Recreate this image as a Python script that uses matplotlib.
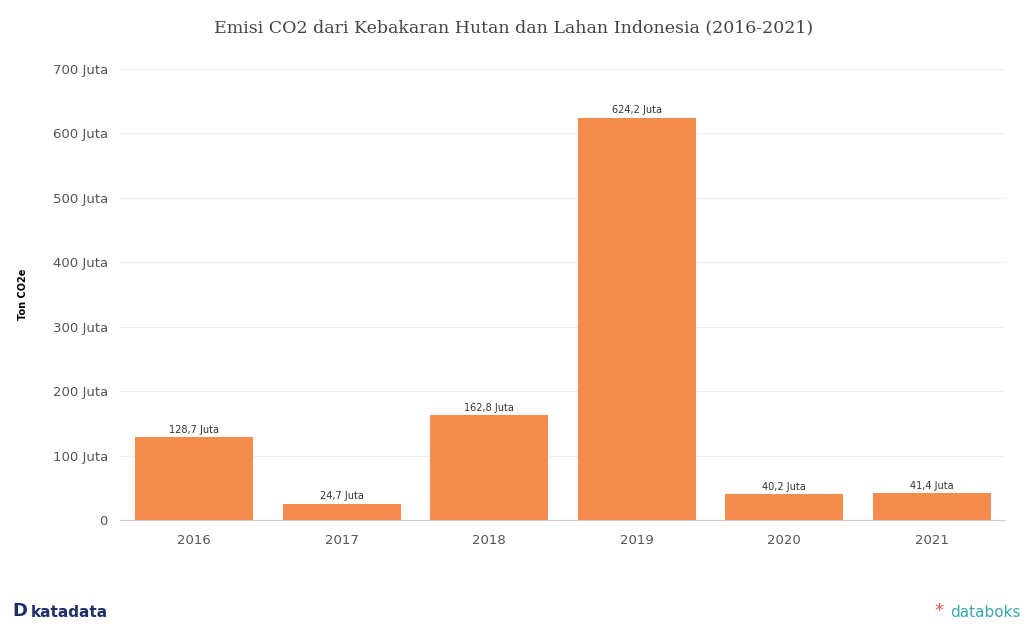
import matplotlib.pyplot as plt
from matplotlib.ticker import FuncFormatter

years = ["2016", "2017", "2018", "2019", "2020", "2021"]
emisi = [128.7, 24.7, 162.8, 624.2, 40.2, 41.4]  # juta ton CO2e
yticks = [0, 100, 200, 300, 400, 500, 600, 700]

bar_color = "#F58B4C"

fig = plt.figure(figsize=(10.28, 6.28), dpi=100)
ax = fig.add_axes([0.117, 0.172, 0.861, 0.718])

x = range(len(years))
bars = ax.bar(x, emisi, width=0.8, color=bar_color, zorder=2)

for rect, v in zip(bars, emisi):
    label = f"{v:.1f}".replace(".", ",") + " Juta"
    ax.text(rect.get_x() + rect.get_width() / 2, v + 4, label,
            ha="center", va="bottom", fontsize=7, color="#333333")

ax.set_xlim(-0.5, 5.5)
ax.set_ylim(0, 700)
ax.set_xticks(list(x))
ax.set_xticklabels(years)
ax.set_yticks(yticks)
ax.yaxis.set_major_formatter(FuncFormatter(lambda v, p: "0" if v == 0 else f"{int(v)} Juta"))
ax.tick_params(axis="both", length=0, labelsize=9.5, colors="#555555")
ax.tick_params(axis="x", pad=10)
ax.tick_params(axis="y", pad=9)

ax.grid(axis="y", color="#eeeeee", linewidth=0.8, zorder=0)
for side in ["top", "right", "left"]:
    ax.spines[side].set_visible(False)
ax.spines["bottom"].set_color("#cccccc")

ax.set_ylabel("Ton CO2e", fontsize=7, fontweight="bold", labelpad=18)

fig.text(0.5, 0.955, "Emisi CO2 dari Kebakaran Hutan dan Lahan Indonesia (2016-2021)",
         ha="center", va="center", fontsize=12.5, family="DejaVu Serif", color="#444444")

fig.text(0.012, 0.012, "D", fontsize=13, fontweight="bold", color="#1f2f6b", va="bottom")
fig.text(0.03, 0.012, "katadata", fontsize=11, fontweight="bold", color="#1f2f6b", va="bottom")
fig.text(0.993, 0.012, "databoks", fontsize=11, color="#3aa8b0", ha="right", va="bottom")
fig.text(0.918, 0.012, "*", fontsize=13, color="#e85a4f", ha="right", va="bottom")

fig.savefig("out.png", dpi=100)
